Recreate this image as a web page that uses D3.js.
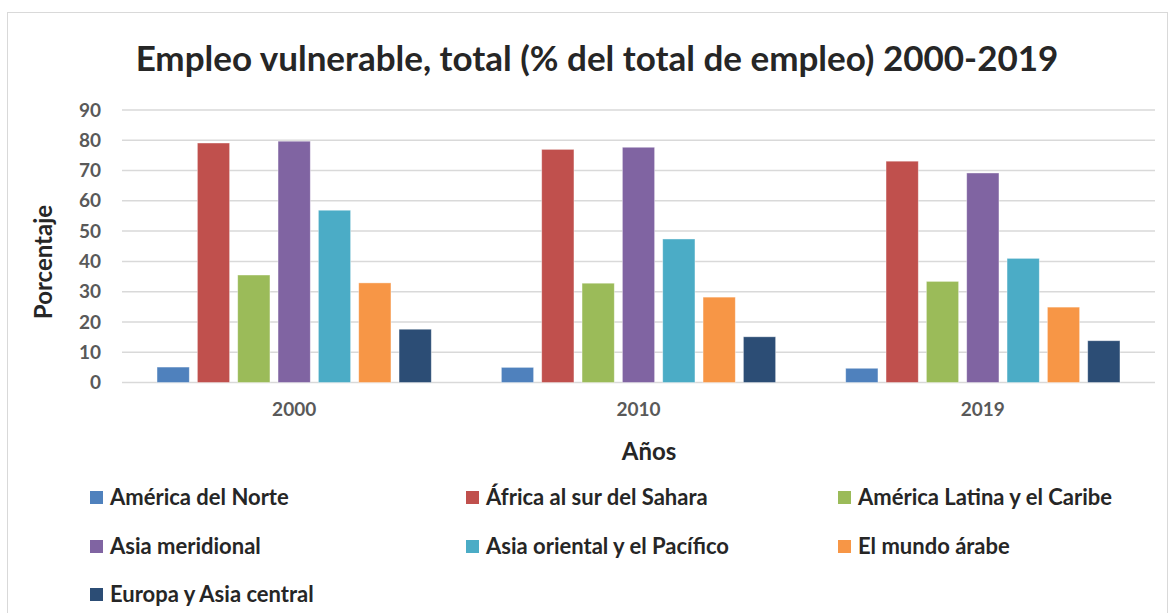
<!DOCTYPE html>
<html lang="es">
<head>
  <meta charset="UTF-8">
  <title>Empleo vulnerable</title>
  <script src="https://cdn.jsdelivr.net/npm/d3@7"></script>
  <style>
    body { margin: 0; background: #fff; }
    text { font-family: Lato, "Open Sans", sans-serif; font-weight: bold; }
    .axis path, .axis line { display: none; }
    .axis text { fill: #595959; font-size: 19px; font-family: Lato, sans-serif; font-weight: bold; }
  </style>
</head>
<body>
<script>
var years = ["2000", "2010", "2019"];
var regions = ["América del Norte", "África al sur del Sahara", "América Latina y el Caribe",
               "Asia meridional", "Asia oriental y el Pacífico", "El mundo árabe", "Europa y Asia central"];
var colors = ["#4f81bd", "#c0504d", "#9bbb59", "#8064a2", "#4bacc6", "#f79646", "#2c4d75"];
var yTicks = [0, 10, 20, 30, 40, 50, 60, 70, 80, 90];

// one array per region: 2000, 2010, 2019
var norte = [5.1, 5.0, 4.7];
var africa = [79.1, 77.0, 73.1];
var latina = [35.5, 32.8, 33.4];
var meridional = [79.7, 77.7, 69.2];
var oriental = [56.9, 47.4, 41.0];
var arabe = [32.9, 28.2, 24.9];
var europa = [17.6, 15.1, 13.8];
var series = [norte, africa, latina, meridional, oriental, arabe, europa];

var w = 1172, h = 613;
var plotLeft = 122, plotRight = 1155, plotTop = 110, plotBottom = 382.5;

var svg = d3.select("body").append("svg")
  .attr("width", w)
  .attr("height", h);

// chart border
svg.append("rect")
  .attr("x", 7.5).attr("y", 12.5)
  .attr("width", 1160).attr("height", 620)
  .attr("fill", "none").attr("stroke", "#d9d9d9");

var x0 = d3.scaleBand().domain(years).range([plotLeft, plotRight]).paddingInner(0.18).paddingOuter(0.09);
var x1 = d3.scaleBand().domain(d3.range(regions.length)).range([0, x0.bandwidth()])
  .paddingInner(0.2).paddingOuter(0.1);
var y = d3.scaleLinear().domain([0, 90]).range([plotBottom, plotTop]);

// gridlines
svg.append("g").selectAll("line")
  .data(yTicks)
  .enter().append("line")
  .attr("x1", plotLeft).attr("x2", plotRight)
  .attr("y1", d => y(d)).attr("y2", d => y(d))
  .attr("stroke", "#d9d9d9").attr("stroke-width", 1.5);

// bars
var groups = svg.append("g").selectAll("g")
  .data(years)
  .enter().append("g")
  .attr("transform", d => `translate(${x0(d)},0)`);

groups.selectAll("rect")
  .data((yr, i) => series.map((s, k) => ({k: k, v: s[i]})))
  .enter().append("rect")
  .attr("x", d => x1(d.k))
  .attr("width", x1.bandwidth())
  .attr("y", d => y(d.v))
  .attr("height", d => plotBottom - y(d.v))
  .attr("fill", d => colors[d.k])
  .attr("stroke", "#fff").attr("stroke-opacity", 0.5).attr("stroke-width", 0.8);

// axes
var yAxis = d3.axisLeft(y).tickValues(yTicks).tickSize(0).tickPadding(0);
svg.append("g").attr("class", "axis")
  .attr("transform", "translate(101,0)")
  .call(yAxis);

var xAxis = d3.axisBottom(x0).tickSize(0).tickPadding(20);
svg.append("g").attr("class", "axis")
  .attr("transform", `translate(0,${plotBottom})`)
  .call(xAxis);

// title
svg.append("text")
  .attr("x", 597).attr("y", 71)
  .attr("text-anchor", "middle")
  .attr("font-size", 35).attr("fill", "#262626")
  .text("Empleo vulnerable, total (% del total de empleo) 2000-2019");

// axis titles
svg.append("text")
  .attr("x", 649).attr("y", 460)
  .attr("text-anchor", "middle")
  .attr("font-size", 24).attr("fill", "#262626")
  .text("Años");

svg.append("text")
  .attr("transform", "translate(52,262) rotate(-90)")
  .attr("text-anchor", "middle")
  .attr("font-size", 24).attr("fill", "#262626")
  .text("Porcentaje");

// legend
var colX = [90, 466, 838];
var rowY = [497, 546, 594];
var legend = svg.append("g").selectAll("g")
  .data(regions)
  .enter().append("g")
  .attr("transform", (d, i) => `translate(${colX[i % 3]},${rowY[Math.floor(i / 3)]})`);

legend.append("rect")
  .attr("x", 0).attr("y", -6)
  .attr("width", 13).attr("height", 13)
  .attr("fill", (d, i) => colors[i]);

legend.append("text")
  .attr("x", 20).attr("y", 8)
  .attr("font-size", 22).attr("fill", "#262626")
  .text(d => d);
</script>
</body>
</html>
